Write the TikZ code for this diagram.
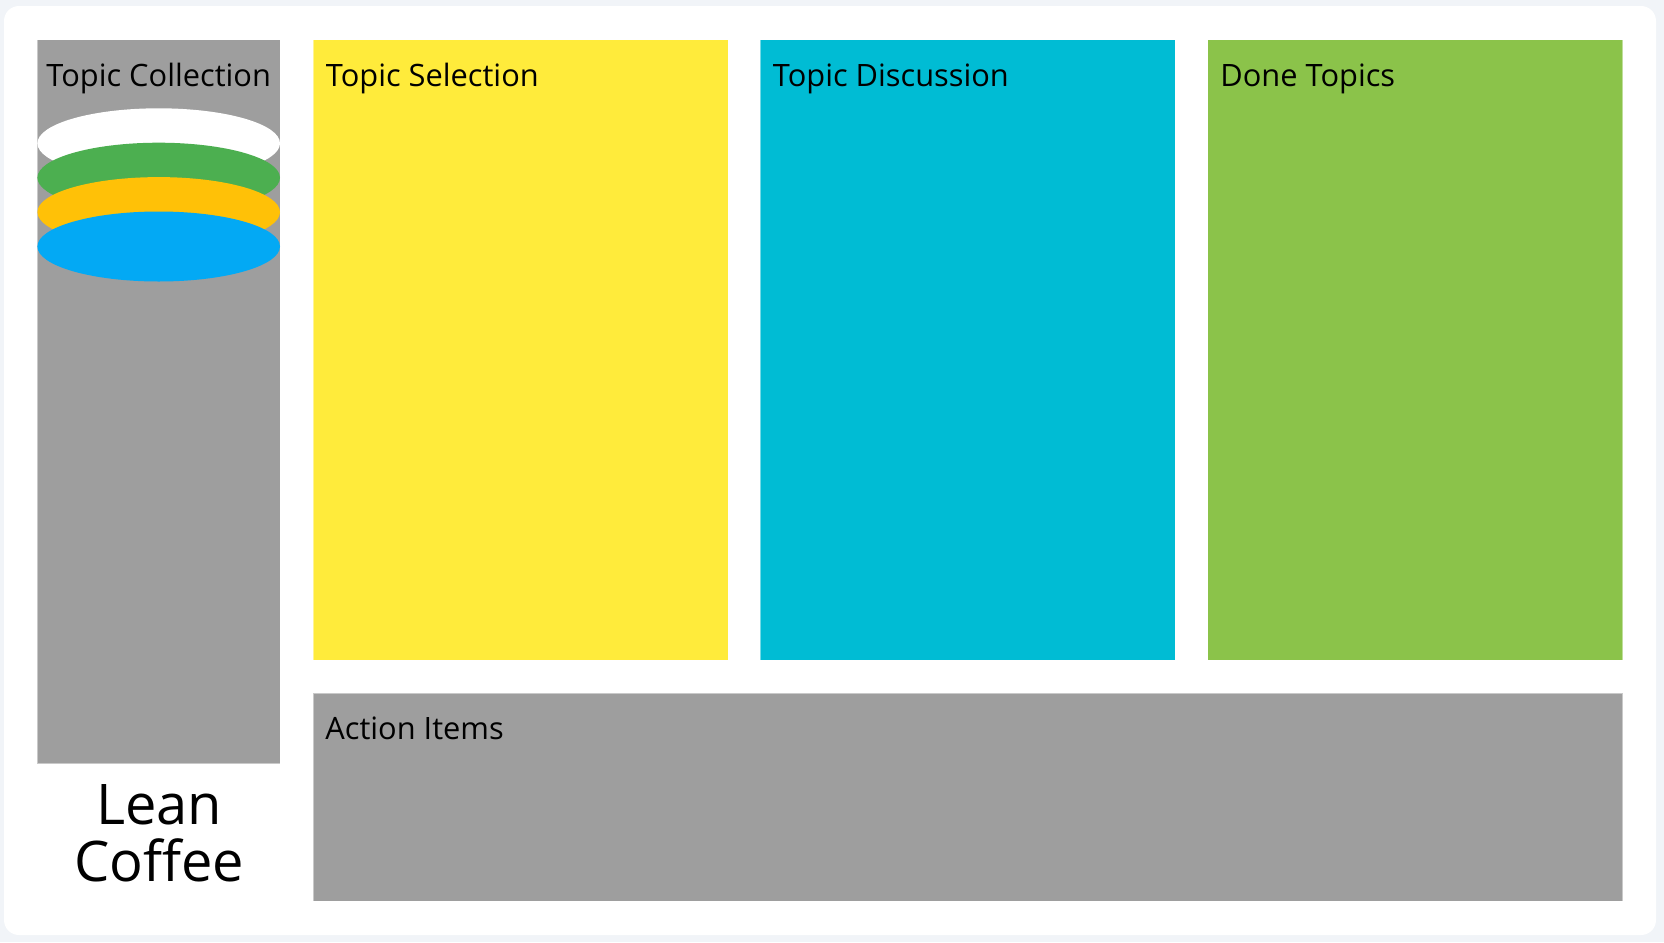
\documentclass[tikz,border=0pt]{standalone}
\usepackage{fontspec}
\setmainfont{Open Sans}
\usetikzlibrary{shapes.geometric}

\definecolor{pagebg}{HTML}{F1F4F8}
\definecolor{lanegray}{HTML}{9E9E9E}
\definecolor{laneyellow}{HTML}{FFEB3B}
\definecolor{lanecyan}{HTML}{00BCD4}
\definecolor{lanegreen}{HTML}{8BC34A}
\definecolor{topicgreen}{HTML}{4CAF50}
\definecolor{topicamber}{HTML}{FFC107}
\definecolor{topicblue}{HTML}{03A9F4}

\tikzset{
  every lane/.style={draw=white, draw opacity=0.45, line width=0.5pt},
  lane title/.style={anchor=base west, inner sep=0pt, font=\fontsize{15.4}{18}\selectfont},
  topic card/.style={ellipse, inner sep=0pt, minimum width=121.3pt, minimum height=35pt}
}

\begin{document}
\begin{tikzpicture}[x=0.5pt, y=-0.5pt]

    \fill [pagebg] (0,0) rectangle (1664,942);
    \fill [white, rounded corners=7.5pt] (4,6) rectangle (1656,935);

    % collection column
    \draw [every lane, fill=lanegray] (37.3,39.5) rectangle (280,763.7);
    \node [lane title, anchor=base] (collection) at (158.7,86) {Topic Collection};

    \foreach \c [count=\i from 0] in {white,topicgreen,topicamber,topicblue}
      \node [topic card, fill=\c] (card-\i) at (158.7,143.3+\i*34.4) {};

    % board columns
    \foreach \n/\x/\c/\t in {selection/313/laneyellow/Topic Selection,
                             discussion/760/lanecyan/Topic Discussion,
                             done/1207.5/lanegreen/Done Topics}
    {
      \draw [every lane, fill=\c] (\x,39.5) rectangle (\x+415,660);
      \node [lane title] (\n) at (\x+12.5,86) {\t};
    }

    \draw [every lane, fill=lanegray] (313,693) rectangle (1622.5,901);
    \node [lane title] (actions) at (325,739) {Action Items};

    \node [align=center, inner sep=0pt, font=\fontsize{28}{28.3}\selectfont,
           anchor=base] (title) at (159,881.3) {Lean\\Coffee};

\end{tikzpicture}
\end{document}
